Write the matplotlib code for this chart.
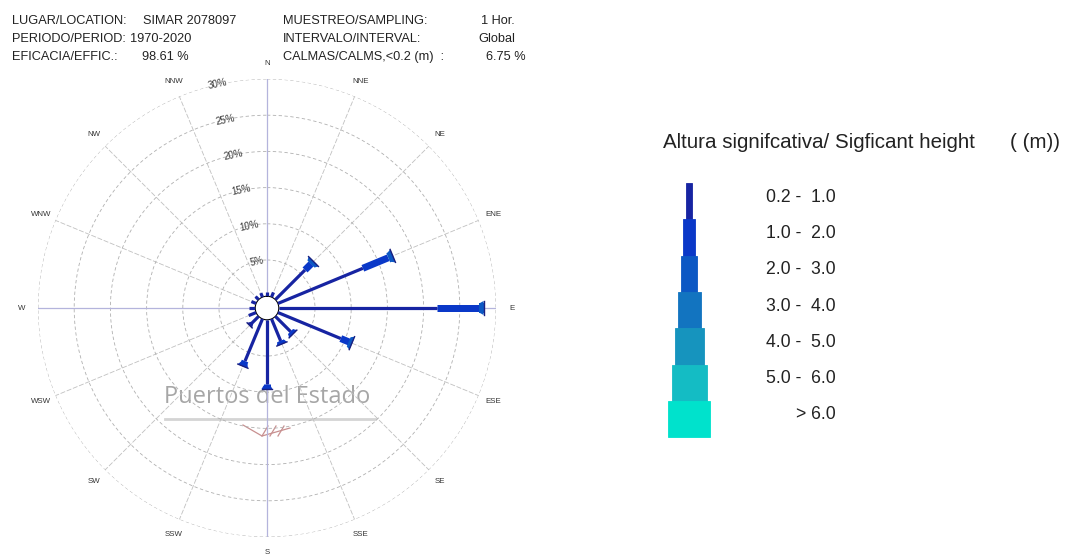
import numpy as np
import matplotlib
matplotlib.use("Agg")
import matplotlib.pyplot as plt

plt.rcParams["font.family"] = ["Liberation Sans", "DejaVu Sans"]

# station info
header_left = [("LUGAR/LOCATION:", "SIMAR 2078097"),
               ("PERIODO/PERIOD:", "1970-2020"),
               ("EFICACIA/EFFIC.:", "98.61 %")]
header_right = [("MUESTREO/SAMPLING:", "1 Hor."),
                ("INTERVALO/INTERVAL:", "Global"),
                ("CALMAS/CALMS,<0.2 (m)  :", "6.75 %")]

directions = ["N", "NNE", "NE", "ENE", "E", "ESE", "SE", "SSE",
              "S", "SSW", "SW", "WSW", "W", "WNW", "NW", "NNW"]
dir_angles = np.arange(16) * 22.5

# frequency (%) per direction for each Hs class
hs_02_10 = [0.6, 0.7, 5.8, 12.7, 21.8, 9.4, 3.0, 3.3, 8.9, 6.3, 1.8, 1.1, 0.9, 0.7, 0.6, 0.6]
hs_10_20 = [0.0, 0.0, 1.2, 3.8, 5.8, 1.4, 0.5, 0.5, 0.7, 0.8, 0.0, 0.0, 0.0, 0.0, 0.0, 0.0]
hs_20_30 = [0.0, 0.0, 0.5, 0.7, 0.7, 0.3, 0.0, 0.0, 0.0, 0.0, 0.0, 0.0, 0.0, 0.0, 0.0, 0.0]
class_freqs = [hs_02_10, hs_10_20, hs_20_30]

hs_labels = ["0.2 -  1.0", "1.0 -  2.0", "2.0 -  3.0", "3.0 -  4.0",
             "4.0 -  5.0", "5.0 -  6.0", "> 6.0"]
ring_levels = [5, 10, 15, 20, 25, 30]

class_colors = ["#1724a2", "#0a38c8", "#0c58c4", "#1274c0", "#1694be", "#14bcc4", "#00e2cc"]
rose_widths = [3.2, 7, 10]            # px
legend_widths = [6, 12, 16, 23, 29, 35, 42]   # px

W, H = 1069, 555
fig = plt.figure(figsize=(W / 100, H / 100), dpi=100)

# background axes in pixel units for the texts and the legend
bg = fig.add_axes([0, 0, 1, 1])
bg.set_xlim(0, W)
bg.set_ylim(H, 0)
bg.axis("off")

hdr = dict(fontsize=9.2, color="#222222", va="center")
for i, (k, v) in enumerate(header_left):
    y = 21 + i * 18
    bg.text(12, y, k, **hdr)
    bg.text(143 if i == 0 else (130 if i == 1 else 142), y, v, **hdr)
for i, (k, v) in enumerate(header_right):
    y = 21 + i * 18
    bg.text(283, y, k, **hdr)
    bg.text(515 if i < 2 else 526, y, v, ha="right", **hdr)

# legend
bg.text(663, 143, "Altura signifcativa/ Sigficant height", fontsize=14.8,
        color="#222222", va="center")
bg.text(1060, 143, "( (m))", fontsize=14.8, color="#222222", va="center", ha="right")
box_h = 36.3
for k, (lab, col, w) in enumerate(zip(hs_labels, class_colors, legend_widths)):
    top = 183 + k * box_h
    bg.bar(689, box_h, bottom=top, width=w, color=col, edgecolor=col,
           linewidth=0.6, align="center")
    bg.text(836, top + box_h / 2 - 4, lab, fontsize=12.7, color="#222222",
            ha="right", va="center")

# watermark
bg.text(267, 397, "Puertos del Estado", fontsize=17, color="#a6a6a6",
        ha="center", va="center", family=["Open Sans", "DejaVu Sans"])
bg.plot([165, 375], [419, 419], color="#d4d4d4", lw=2)
bg.plot([243, 262, 290], [425, 436, 428], color="#c89090", lw=0.9)
for x0 in (262, 270, 278):
    bg.plot([x0, x0 + 6], [436, 426], color="#c89090", lw=0.9)

# rose
R0 = 1.63
ax = fig.add_axes([38 / W, (H - 537) / H, 458 / W, 458 / H], projection="polar")
ax.patch.set_alpha(0)
ax.set_theta_zero_location("N")
ax.set_theta_direction(-1)
ax.set_rorigin(-R0)
ax.set_ylim(0, 30)
ax.spines["polar"].set_visible(False)
ax.set_rgrids(ring_levels, labels=[])
ax.set_thetagrids(dir_angles, labels=[])
ax.yaxis.grid(True, color="#b0b0b0", lw=0.6, ls=(0, (4, 3)))
ax.xaxis.grid(True, color="#c0c0c0", lw=0.6, ls=(0, (6, 2)))
for a in (0, 90, 180, 270):
    ax.plot([np.radians(a)] * 2, [0, 30], color="#b4b4dc", lw=0.9, zorder=2)

px_per_unit = 229 / (30 + R0)

for lev in ring_levels:
    ax.text(np.radians(-12.5), lev, f"{lev}%", fontsize=7, color="#3a3a3a",
            ha="center", va="center", rotation=12)

for ang, lab in zip(dir_angles, directions):
    ax.text(np.radians(ang), 32.2, lab, fontsize=5.7, color="#333333",
            ha="center", va="center", clip_on=False)

for i, ang in enumerate(dir_angles):
    th = np.radians(ang)
    r0 = 0.0
    for k, freq in enumerate(class_freqs):
        f = freq[i]
        if f <= 0:
            continue
        ax.plot([th, th], [r0, r0 + f], color=class_colors[k],
                lw=rose_widths[k] * 0.72, solid_capstyle="butt", zorder=5)
        r0 += f
        last_k = k
    if r0 < 1.5:
        continue
    # flared tip with a cap
    flare = 0.5
    half_w = (rose_widths[last_k] / 2 + 2.0) / ((r0 + R0) * px_per_unit)
    half_b = (rose_widths[last_k] / 2) / ((r0 - flare + R0) * px_per_unit)
    ax.fill([th - half_b, th - half_w, th + half_w, th + half_b],
            [r0 - flare, r0, r0, r0 - flare], color=class_colors[last_k],
            lw=0, zorder=5)
    ax.plot([th - half_w, th + half_w], [r0, r0], color="#1a2080", lw=1.0, zorder=6)

fig.savefig("out.png", dpi=100)
